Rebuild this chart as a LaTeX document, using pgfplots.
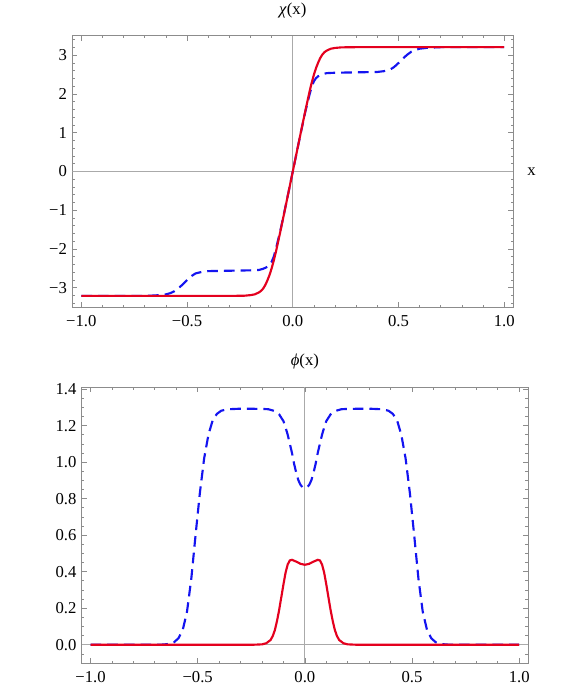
\documentclass[border=0pt]{standalone}
\usepackage{fontspec}
\setmainfont{Liberation Serif}
\usepackage{pgfplots}
\pgfplotsset{compat=1.18}

\definecolor{curvered}{RGB}{228,0,30}
\definecolor{curveblue}{RGB}{20,20,240}
\definecolor{framegray}{RGB}{140,140,140}
\definecolor{zerogray}{RGB}{170,170,170}

\pgfplotsset{
  mma/.style={
    scale only axis,
    clip=true,
    axis line style={framegray, line width=0.6pt},
    tick style={framegray, line width=0.5pt},
    tick align=inside,
    tick pos=both,
    xticklabel pos=lower,
    yticklabel pos=left,
    major tick length=3.8pt,
    minor tick length=2pt,
    /pgf/number format/assume math mode=true,
    tick label style={font=\fontsize{12.5}{14}\selectfont\rmfamily, black},
    xticklabel style={yshift=-2.5pt},
    yticklabel style={xshift=-0.5pt},
    title style={font=\fontsize{12.5}{14}\selectfont, yshift=4pt},
  },
  blueline/.style={curveblue, line width=1.6pt, dash pattern=on 8pt off 4.5pt},
  redline/.style={curvered, line width=1.6pt},
}

\begin{document}
\begin{tikzpicture}
\path[use as bounding box] (0,0) rectangle (438pt,-516.75pt);

% chi(x)
\begin{axis}[mma,
  at={(54.2pt,-26.8pt)}, anchor=north west,
  width=330.75pt, height=203.7pt,
  xmin=-1.043, xmax=1.043, ymin=-3.505, ymax=3.505,
  xtick={-1,-0.5,0,0.5,1},
  xticklabels={\textrm{−1.0},\textrm{−0.5},\textrm{0.0},\textrm{0.5},\textrm{1.0}},
  minor xtick={-1,-0.9,...,1},
  ytick={-3,-2,-1,0,1,2,3},
  yticklabels={\textrm{−3},\textrm{−2},\textrm{−1},\textrm{0},\textrm{1},\textrm{2},\textrm{3}},
  minor ytick={-3.4,-3.2,...,3.45},
  title={\textit{χ}(x)},
  xlabel={x},
  xlabel style={at={(rel axis cs:1,0.5)}, anchor=west, xshift=7pt, font=\fontsize{12.5}{14}\selectfont},
]
\draw[zerogray, line width=0.9pt] (axis cs:0,-3.505) -- (axis cs:0,3.505);
\draw[zerogray, line width=0.9pt] (axis cs:-1.043,0) -- (axis cs:1.043,0);
\addplot[blueline] table {
-1.00 -3.21
-0.70 -3.21
-0.66 -3.20
-0.63 -3.19
-0.60 -3.17
-0.58 -3.14
-0.56 -3.09
-0.54 -3.01
-0.52 -2.91
-0.50 -2.80
-0.48 -2.70
-0.46 -2.63
-0.43 -2.59
-0.40 -2.57
-0.30 -2.56
-0.20 -2.55
-0.16 -2.54
-0.14 -2.51
-0.12 -2.46
-0.11 -2.41
-0.10 -2.33
-0.09 -2.20
-0.08 -2.00
-0.06 -1.56
-0.04 -1.05
-0.02 -0.53
0.00 0.00
0.02 0.53
0.04 1.05
0.06 1.56
0.08 2.00
0.09 2.20
0.10 2.33
0.11 2.41
0.12 2.46
0.14 2.51
0.16 2.54
0.20 2.55
0.30 2.56
0.40 2.57
0.43 2.59
0.46 2.63
0.48 2.70
0.50 2.80
0.52 2.91
0.54 3.01
0.56 3.09
0.58 3.14
0.60 3.17
0.63 3.19
0.66 3.20
0.70 3.21
1.00 3.21
};
\addplot[redline] table {
-1.00 -3.21
-0.30 -3.21
-0.23 -3.205
-0.20 -3.19
-0.18 -3.17
-0.16 -3.12
-0.15 -3.08
-0.14 -3.02
-0.13 -2.93
-0.12 -2.81
-0.11 -2.67
-0.10 -2.50
-0.09 -2.30
-0.08 -2.08
-0.06 -1.58
-0.04 -1.06
-0.02 -0.53
0.00 0.00
0.02 0.53
0.04 1.06
0.06 1.58
0.08 2.08
0.09 2.30
0.10 2.50
0.11 2.67
0.12 2.81
0.13 2.93
0.14 3.02
0.15 3.08
0.16 3.12
0.18 3.17
0.20 3.19
0.23 3.205
0.30 3.21
1.00 3.21
};
\end{axis}

% phi(x)
\begin{axis}[mma,
  at={(61.3pt,-290.5pt)}, anchor=north west,
  width=334.7pt, height=207pt,
  xmin=-1.041, xmax=1.041, ymin=-0.102, ymax=1.41,
  xtick={-1,-0.5,0,0.5,1},
  xticklabels={\textrm{−1.0},\textrm{−0.5},\textrm{0.0},\textrm{0.5},\textrm{1.0}},
  minor xtick={-1,-0.9,...,1},
  ytick={0,0.2,0.4,0.6,0.8,1.0,1.2,1.4},
  yticklabels={\textrm{0.0},\textrm{0.2},\textrm{0.4},\textrm{0.6},\textrm{0.8},\textrm{1.0},\textrm{1.2},\textrm{1.4}},
  minor ytick={-0.1,-0.05,...,1.41},
  title={\textit{ϕ}(x)},
]
\draw[zerogray, line width=0.9pt] (axis cs:0,-0.102) -- (axis cs:0,1.41);
\draw[zerogray, line width=0.9pt] (axis cs:-1.041,0) -- (axis cs:1.041,0);
\addplot[blueline] table {
-1.00 0.000
-0.70 0.000
-0.66 0.001
-0.63 0.005
-0.61 0.014
-0.59 0.035
-0.57 0.080
-0.55 0.180
-0.53 0.360
-0.51 0.600
-0.49 0.830
-0.47 1.020
-0.45 1.150
-0.43 1.230
-0.41 1.265
-0.39 1.282
-0.36 1.290
-0.30 1.293
-0.20 1.292
-0.17 1.290
-0.14 1.280
-0.12 1.262
-0.10 1.225
-0.09 1.190
-0.08 1.150
-0.07 1.100
-0.06 1.050
-0.05 0.990
-0.04 0.940
-0.03 0.900
-0.02 0.875
-0.01 0.862
0.00 0.860
0.01 0.862
0.02 0.875
0.03 0.900
0.04 0.940
0.05 0.990
0.06 1.050
0.07 1.100
0.08 1.150
0.09 1.190
0.10 1.225
0.12 1.262
0.14 1.280
0.17 1.290
0.20 1.292
0.30 1.293
0.36 1.290
0.39 1.282
0.41 1.265
0.43 1.230
0.45 1.150
0.47 1.020
0.49 0.830
0.51 0.600
0.53 0.360
0.55 0.180
0.57 0.080
0.59 0.035
0.61 0.014
0.63 0.005
0.66 0.001
0.70 0.000
1.00 0.000
};
\addplot[redline] table {
-1.00 0.000
-0.24 0.000
-0.20 0.002
-0.18 0.008
-0.16 0.026
-0.15 0.047
-0.14 0.080
-0.13 0.130
-0.12 0.190
-0.11 0.260
-0.10 0.330
-0.09 0.395
-0.08 0.440
-0.07 0.462
-0.06 0.465
-0.04 0.455
-0.02 0.443
0.00 0.438
0.02 0.443
0.04 0.455
0.06 0.465
0.07 0.462
0.08 0.440
0.09 0.395
0.10 0.330
0.11 0.260
0.12 0.190
0.13 0.130
0.14 0.080
0.15 0.047
0.16 0.026
0.18 0.008
0.20 0.002
0.24 0.000
1.00 0.000
};
\end{axis}
\end{tikzpicture}
\end{document}
